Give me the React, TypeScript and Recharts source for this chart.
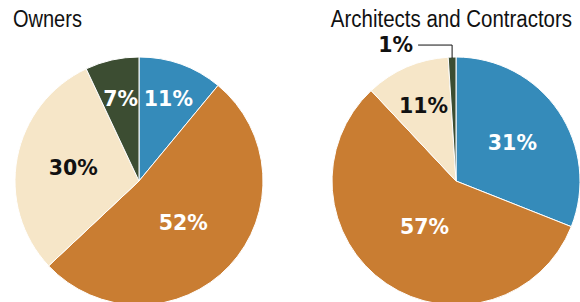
import React from "react";
import { PieChart, Pie, Cell } from "recharts";

const segments = ["Other", "Large", "Medium", "Small"];
const ownersValues = [11, 52, 30, 7];
const architectsValues = [31, 57, 11, 1];
const titles = ["Owners", "Architects and Contractors"];

const COLORS = ["#358bba", "#c97d32", "#f6e6c8", "#3c4d32"];
const TEXT_COLORS = ["#ffffff", "#ffffff", "#111111", "#ffffff"];
const OWNERS_LABEL_R = [0.7, 0.49, 0.54, 0.68];
const ARCH_LABEL_R = [0.55, 0.45, 0.66, -1];

const ownersData = segments.map((s, i) => ({ name: s, value: ownersValues[i] }));
const architectsData = segments.map((s, i) => ({ name: s, value: architectsValues[i] }));

const RADIAN = Math.PI / 180;
const LABEL_FONT = "'DejaVu Sans', Verdana, sans-serif";
const LABEL_SIZE = 20.5;
const TITLE_FONT = "'Liberation Sans', Arial, sans-serif";

const makeLabel = (ratios: number[]) => (props: any) => {
  const { cx, cy, midAngle, outerRadius, index, value } = props;
  const ratio = ratios[index];
  if (ratio < 0) {
    const ex = cx + outerRadius * Math.cos(-midAngle * RADIAN);
    const ey = cy + outerRadius * Math.sin(-midAngle * RADIAN);
    const ly = ey - 12;
    return (
      <g>
        <polyline
          points={`${ex},${ey + 1} ${ex},${ly} ${ex - 34},${ly}`}
          fill="none"
          stroke="#111"
          strokeWidth={1}
        />
        <text
          x={ex - 39}
          y={ly}
          textAnchor="end"
          dominantBaseline="central"
          fill="#111"
          fontFamily={LABEL_FONT}
          fontWeight="bold"
          fontSize={LABEL_SIZE}
        >
          {`${value}%`}
        </text>
      </g>
    );
  }
  const r = outerRadius * ratio;
  const x = cx + r * Math.cos(-midAngle * RADIAN);
  const y = cy + r * Math.sin(-midAngle * RADIAN);
  return (
    <text
      x={x}
      y={y}
      textAnchor="middle"
      dominantBaseline="central"
      fill={TEXT_COLORS[index]}
      fontFamily={LABEL_FONT}
      fontWeight="bold"
      fontSize={LABEL_SIZE}
    >
      {`${value}%`}
    </text>
  );
};

export default function App() {
  return (
    <div style={{ position: "absolute", left: 0, top: 0, width: 580, height: 302, overflow: "hidden", background: "#fff" }}>
      <PieChart width={580} height={302} margin={{ top: 0, right: 0, bottom: 0, left: 0 }}>
        <Pie
          data={ownersData}
          dataKey="value"
          nameKey="name"
          cx={139}
          cy={181}
          outerRadius={124}
          startAngle={90}
          endAngle={-270}
          stroke="#ffffff"
          strokeWidth={1}
          labelLine={false}
          label={makeLabel(OWNERS_LABEL_R)}
          isAnimationActive={false}
        >
          {ownersData.map((d, i) => (
            <Cell key={d.name} fill={COLORS[i]} />
          ))}
        </Pie>
        <Pie
          data={architectsData}
          dataKey="value"
          nameKey="name"
          cx={456}
          cy={181}
          outerRadius={124}
          startAngle={90}
          endAngle={-270}
          stroke="#ffffff"
          strokeWidth={1}
          labelLine={false}
          label={makeLabel(ARCH_LABEL_R)}
          isAnimationActive={false}
        >
          {architectsData.map((d, i) => (
            <Cell key={d.name} fill={COLORS[i]} />
          ))}
        </Pie>
      </PieChart>
      <svg width={580} height={50} style={{ position: "absolute", left: 0, top: 0 }}>
        <g transform="translate(13,27) scale(0.87,1)">
          <text x={0} y={0} fontFamily={TITLE_FONT} fontSize={23} fill="#111">
            {titles[0]}
          </text>
        </g>
        <g transform="translate(572,27) scale(0.89,1)">
          <text x={0} y={0} textAnchor="end" fontFamily={TITLE_FONT} fontSize={23} fill="#111">
            {titles[1]}
          </text>
        </g>
      </svg>
    </div>
  );
}
